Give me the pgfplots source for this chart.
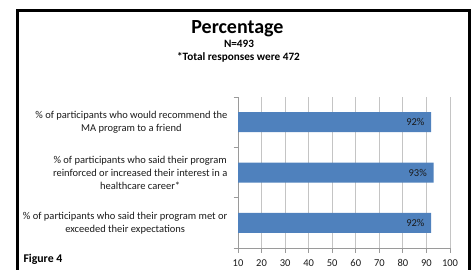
\documentclass[border=0pt]{standalone}
\usepackage{pgfplots}
\pgfplotsset{compat=1.18}
\usepackage{fontspec}
\setmainfont[Numbers=Lining]{Carlito}
\definecolor{barblue}{HTML}{4F81BD}
\definecolor{gridgray}{HTML}{C4C4C4}
\definecolor{axisgray}{HTML}{9A9A9A}
\definecolor{txt}{HTML}{1A1A1A}
\begin{document}
\begin{tikzpicture}
\path[use as bounding box] (0pt,0pt) rectangle (473pt,-269pt);
\begin{scope}
\clip (0pt,0pt) rectangle (473pt,-269pt);
\draw[line width=3.2pt, line join=miter] (17.5pt,-300pt) -- (17.5pt,-10.5pt) -- (469.5pt,-10.5pt) -- (469.5pt,-300pt);
\end{scope}
\node[anchor=base, inner sep=0pt, font=\fontsize{20}{22}\selectfont\bfseries] at (237.5pt,-33.5pt) {Percentage};
\node[anchor=base, inner sep=0pt, font=\fontsize{11.2}{13}\selectfont\bfseries] at (239pt,-47pt) {N=493};
\node[anchor=base, inner sep=0pt, font=\fontsize{11.2}{13}\selectfont\bfseries] at (238.5pt,-60pt) {*Total responses were 472};
\node[anchor=base west, inner sep=0pt, font=\fontsize{11.8}{13}\selectfont\bfseries] at (23.3pt,-262pt) {Figure 4};
\begin{axis}[
  at={(238pt,-248pt)}, anchor=south west,
  scale only axis, width=212pt, height=151pt,
  xbar, bar width=20pt,
  xmin=10, xmax=100, ymin=0.5, ymax=3.5,
  xtick={10,20,...,100},
  ytick={0.5,1.5,2.5,3.5}, yticklabels={},
  extra y ticks={1,2,3},
  extra y tick labels={{\% of participants who said their program met or\\exceeded their expectations},
    {\% of participants who said their program\\reinforced or increased their interest in a\\healthcare career*},
    {\% of participants who would recommend the\\MA program to a friend}},
  extra y tick style={major tick length=0pt, grid=none,
    yticklabel style={align=center, anchor=east, inner sep=0pt, xshift=-10.5pt,
      font=\fontsize{10.5}{13}\selectfont, text=txt}},
  tick align=outside, major tick length=4.5pt,
  xmajorgrids, major grid style={gridgray, line width=0.8pt},
  axis x line*=bottom, axis y line*=left,
  axis line style={axisgray, line width=0.8pt},
  every tick/.style={axisgray, line width=0.8pt},
  xticklabel style={font=\fontsize{10.5}{12}\selectfont, inner sep=0pt, anchor=base, yshift=-13.5pt, text=txt},
  /pgf/number format/assume math mode=true,
  point meta=x,
  nodes near coords={\pgfmathprintnumber{\pgfplotspointmeta}\%},
  nodes near coords align={anchor=east},
  every node near coord/.append style={font=\fontsize{10.5}{12}\selectfont, inner sep=0pt, xshift=-6.5pt, text=txt},
  clip=true,
]
\addplot[fill=barblue, draw=none] coordinates {(92,1) (93,2) (92,3)};
\end{axis}
\end{tikzpicture}
\end{document}
